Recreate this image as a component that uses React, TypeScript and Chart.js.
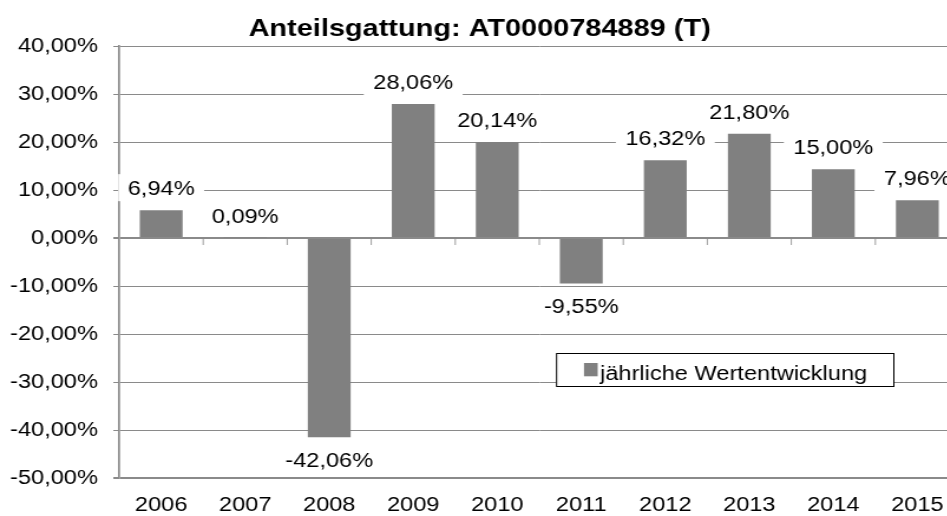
import React, { useEffect, useRef } from "react";
import { Chart, registerables } from "chart.js";

Chart.register(...registerables);

// ---- data ----
const categories = ["2006", "2007", "2008", "2009", "2010", "2011", "2012", "2013", "2014", "2015"];
const barValues = [5.8, 0.09, -41.5, 27.9, 20.0, -9.5, 16.2, 21.7, 14.3, 7.85];
const labelTexts = ["6,94%", "0,09%", "-42,06%", "28,06%", "20,14%", "-9,55%", "16,32%", "21,80%", "15,00%", "7,96%"];
const seriesName = "jährliche Wertentwicklung";
const chartTitle = "Anteilsgattung: AT0000784889 (T)";
const yMin = -50;
const yMax = 40;
const yStep = 10;

const FONT = '"Liberation Sans", Arial, Helvetica, sans-serif';
const STRETCH = 1.18;
const BAR_COLOR = "#808080";
const GRID_COLOR = "#8a8a8a";

const fmtPct = (v: number) => v.toFixed(2).replace(".", ",") + "%";

const zeroAxisPlugin = {
  id: "zeroAxis",
  beforeDatasetsDraw(chart: any) {
    const { ctx } = chart;
    const xs = chart.scales.x;
    const ys = chart.scales.y;
    const y0 = ys.getPixelForValue(0);
    const n = categories.length;
    const w = (xs.right - xs.left) / n;
    ctx.save();
    ctx.strokeStyle = GRID_COLOR;
    ctx.lineWidth = 1 / STRETCH;
    for (let i = 1; i <= n; i++) {
      const x = xs.left + i * w;
      ctx.beginPath();
      ctx.moveTo(x, y0);
      ctx.lineTo(x, y0 + 7);
      ctx.stroke();
    }
    ctx.restore();
  },
};

const dataLabelPlugin = {
  id: "dataLabels",
  afterDatasetsDraw(chart: any) {
    const { ctx } = chart;
    const meta = chart.getDatasetMeta(0);
    ctx.save();
    ctx.font = `20px ${FONT}`;
    ctx.textAlign = "center";
    ctx.textBaseline = "alphabetic";
    meta.data.forEach((el: any, i: number) => {
      const v = barValues[i];
      const txt = labelTexts[i];
      const x = el.x;
      const baseline = v >= 0 ? el.y - 15 : el.y + 15 + 14.3;
      const w = ctx.measureText(txt).width;
      ctx.fillStyle = "#ffffff";
      ctx.fillRect(x - w / 2 - 8, baseline - 21, w + 16, 27);
      ctx.fillStyle = "#000000";
      ctx.fillText(txt, x, baseline);
    });
    ctx.restore();
  },
};

const legendBoxPlugin = {
  id: "legendBox",
  afterDraw(chart: any) {
    const { ctx } = chart;
    const x0 = 471.2;
    const y0 = 353;
    const w = 285.8;
    const h = 33;
    ctx.save();
    ctx.fillStyle = "#ffffff";
    ctx.fillRect(x0, y0, w, h);
    ctx.strokeStyle = "#000000";
    ctx.lineWidth = 1;
    ctx.strokeRect(x0 + 0.5, y0 + 0.5, w, h);
    ctx.fillStyle = BAR_COLOR;
    ctx.fillRect(x0 + 23.7, y0 + 10, 11.6, 13.3);
    ctx.fillStyle = "#000000";
    ctx.font = `20px ${FONT}`;
    ctx.textAlign = "left";
    ctx.textBaseline = "alphabetic";
    ctx.fillText(chart.data.datasets[0].label, x0 + 37.3, y0 + 27);
    ctx.restore();
  },
};

export default function App() {
  const canvasRef = useRef<HTMLCanvasElement | null>(null);

  useEffect(() => {
    if (!canvasRef.current) return;
    const chart = new Chart(canvasRef.current, {
      type: "bar",
      data: {
        labels: categories,
        datasets: [
          {
            label: seriesName,
            data: barValues,
            backgroundColor: BAR_COLOR,
            borderWidth: 0,
            barPercentage: 0.51,
            categoryPercentage: 1,
          },
        ],
      },
      options: {
        animation: false,
        responsive: true,
        maintainAspectRatio: false,
        layout: { padding: { left: 0, right: 26, top: 0, bottom: 0 } },
        plugins: {
          legend: { display: false },
          tooltip: { enabled: false },
          title: {
            display: true,
            text: chartTitle,
            color: "#000000",
            font: { family: FONT, size: 24.5, weight: "bold", lineHeight: 1.2 },
            padding: { top: 14.4, bottom: 2.2 },
          },
        },
        scales: {
          x: {
            type: "category",
            offset: true,
            grid: { display: false, drawTicks: false },
            border: { display: false },
            ticks: {
              color: "#000000",
              font: { family: FONT, size: 20, lineHeight: 1.2 },
              padding: 15.8,
              maxRotation: 0,
              autoSkip: false,
            },
            afterFit(scale: any) {
              scale.height = 38;
            },
          },
          y: {
            min: yMin,
            max: yMax,
            grid: {
              color: GRID_COLOR,
              lineWidth: (c: any) => (c.tick && (c.tick.value === 0 || c.tick.value === yMin) ? 2 : 1),
              drawTicks: true,
              tickLength: 5,
              tickColor: GRID_COLOR,
            },
            border: { display: true, color: GRID_COLOR, width: 1.7 },
            ticks: {
              stepSize: yStep,
              color: "#000000",
              font: { family: FONT, size: 20, lineHeight: 1.2 },
              padding: 13,
              callback: (v: any) => fmtPct(Number(v)),
            },
            afterFit(scale: any) {
              scale.width = 101;
            },
          },
        },
      },
      plugins: [zeroAxisPlugin, dataLabelPlugin, legendBoxPlugin],
    });
    return () => chart.destroy();
  }, []);

  return (
    <div
      style={{
        position: "absolute",
        left: 0,
        top: 0,
        width: 947,
        height: 516,
        overflow: "hidden",
        background: "#ffffff",
      }}
    >
      <div
        style={{
          width: 839,
          height: 516,
          transform: `scaleX(${STRETCH})`,
          transformOrigin: "0 0",
        }}
      >
        <canvas ref={canvasRef} />
      </div>
    </div>
  );
}
